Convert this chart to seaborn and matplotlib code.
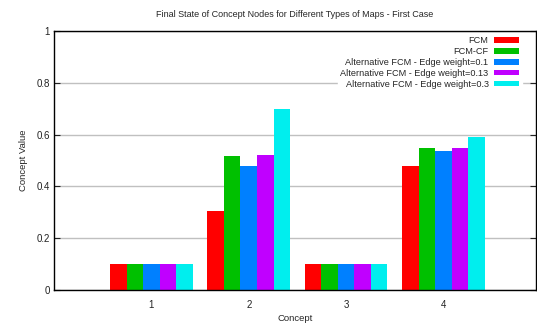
import numpy as np
import pandas as pd
import seaborn as sns
import matplotlib.pyplot as plt

# Dados
conceitos = ['1', '2', '3', '4']
fcm = [0.10, 0.305, 0.10, 0.478]
fcm_cf = [0.10, 0.517, 0.10, 0.547]
alt_01 = [0.10, 0.479, 0.10, 0.537]
alt_013 = [0.10, 0.521, 0.10, 0.547]
alt_03 = [0.10, 0.698, 0.10, 0.591]

series = ['FCM', 'FCM-CF', 'Alternative FCM - Edge weight=0.1',
          'Alternative FCM - Edge weight=0.13', 'Alternative FCM - Edge weight=0.3']
cores = ['#ff0000', '#00c000', '#0080ff', '#c000ff', '#00eeee']

df = pd.DataFrame({
    'Concept': conceitos * 5,
    'Serie': np.repeat(series, 4),
    'Value': fcm + fcm_cf + alt_01 + alt_013 + alt_03,
})

sns.set_theme(style="white")
plt.rcParams['font.family'] = ['Liberation Sans', 'DejaVu Sans']

fig = plt.figure(figsize=(5.37, 3.27), dpi=100)
ax = fig.add_axes([0.1006, 0.113, 0.8975, 0.792])

sns.barplot(data=df, x='Concept', y='Value', hue='Serie', hue_order=series,
            palette=cores, width=0.85, saturation=1, ax=ax, errorbar=None,
            linewidth=0, edgecolor='none')

ax.set_xlim(-1, 3.95)
ax.set_ylim(0, 1)
ax.set_yticks([0, 0.2, 0.4, 0.6, 0.8, 1])
ax.set_yticklabels(['0', '0.2', '0.4', '0.6', '0.8', '1'])
ax.yaxis.grid(True, color='#c0c0c0', linewidth=1)
ax.set_axisbelow(True)
ax.tick_params(axis='both', direction='in', length=4, width=0.8, labelsize=7,
               colors='#222222', left=True, bottom=True, right=True, top=False)
ax.tick_params(axis='x', pad=7)
ax.tick_params(axis='y', pad=3)
for s in ax.spines.values():
    s.set_color('black')
    s.set_linewidth(1)

ax.set_title('Final State of Concept Nodes for Different Types of Maps - First Case',
             fontsize=6.5, pad=10)
ax.set_xlabel('Concept', fontsize=6.8, labelpad=3)
ax.set_ylabel('Concept Value', fontsize=6.8, labelpad=6)

leg = ax.legend(loc='upper right', bbox_to_anchor=(0.97, 0.99), borderaxespad=0,
                markerfirst=False, frameon=True, fontsize=6.6,
                handlelength=2.7, handleheight=0.55, labelspacing=0.2,
                borderpad=0.3, handletextpad=0.6)
leg.get_frame().set_edgecolor('white')
leg.get_frame().set_facecolor('white')
leg.get_frame().set_alpha(1)
leg.get_frame().set_boxstyle('square', pad=0)
for t in leg.get_texts():
    t.set_ha('right')

fig.savefig('out.png', dpi=100)
